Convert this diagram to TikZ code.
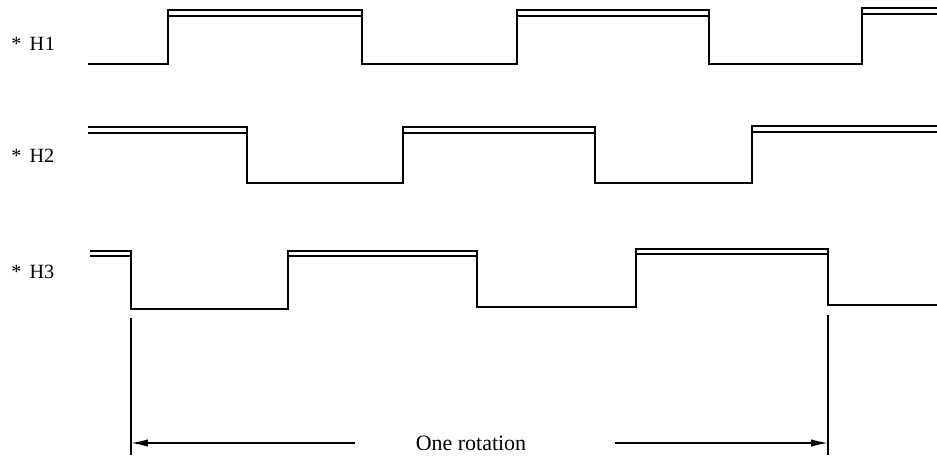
\documentclass[tikz,border=0pt]{standalone}
\usepackage{fontspec}
\setmainfont{Liberation Serif}
\usetikzlibrary{arrows.meta,calc}

\tikzset{
  wave/.style={line width=1.6pt, line join=miter},
  inner/.style={line width=1.3pt},
  guide/.style={line width=0.9pt},
  sigtag/.style={font=\fontsize{11.5}{13}\selectfont, anchor=west, inner sep=0pt},
  spanlabel/.style={font=\fontsize{12.5}{14}\selectfont, inner sep=0pt}
}

\begin{document}
\begin{tikzpicture}[x=0.02cm, y=-0.02cm, >={Latex[length=3.4mm,width=1.5mm]}]
    \useasboundingbox (0,0) rectangle (937,457);
    % signal names
    \node[sigtag] (h1) at (11,44) {*\hspace{0.4em}H\kern0.5pt1};
    \node[sigtag] (h2) at (11,156) {*\hspace{0.4em}H2};
    \node[sigtag] (h3) at (11,272) {*\hspace{0.4em}H3};
    % H1
    \draw[wave] (88,64) -- (168,64) -- (168,10) -- (362,10) -- (362,64) -- (517,64)
      -- (517,10) -- (709,10) -- (709,64) -- (862,64) -- (862,8) -- (937,8);
    \foreach \a/\b/\y in {168/362/16, 517/709/16, 862/937/14}
      \draw[inner] (\a,\y) -- (\b,\y);
    % H2
    \draw[wave] (88,127) -- (247,127) -- (247,183) -- (403,183) -- (403,127) -- (595,127)
      -- (595,183) -- (752,183) -- (752,126) -- (937,126);
    \foreach \a/\b/\y in {88/247/133, 403/595/133, 752/937/132}
      \draw[inner] (\a,\y) -- (\b,\y);
    % H3
    \draw[wave] (90,251) -- (131,251) -- (131,309) -- (288,309) -- (288,251) -- (477,251)
      -- (477,307) -- (636,307) -- (636,249) -- (828,249) -- (828,305) -- (937,305);
    \foreach \a/\b/\y in {90/131/256, 288/477/256, 636/828/254}
      \draw[inner] (\a,\y) -- (\b,\y);
    % one rotation
    \coordinate (lt) at (131,318);
    \coordinate (lb) at (131,455);
    \coordinate (rt) at (828,315);
    \coordinate (rb) at (828,455);
    \draw[guide] (lt) -- (lb);
    \draw[guide] (rt) -- (rb);
    \node[spanlabel] (rot) at (471,443) {One rotation};
    \draw[guide, ->] ($(rot.west)+(-60,0)$) -- (lt |- rot);
    \draw[guide, ->] ($(rot.east)+(88,0)$) -- (rt |- rot);
\end{tikzpicture}
\end{document}
